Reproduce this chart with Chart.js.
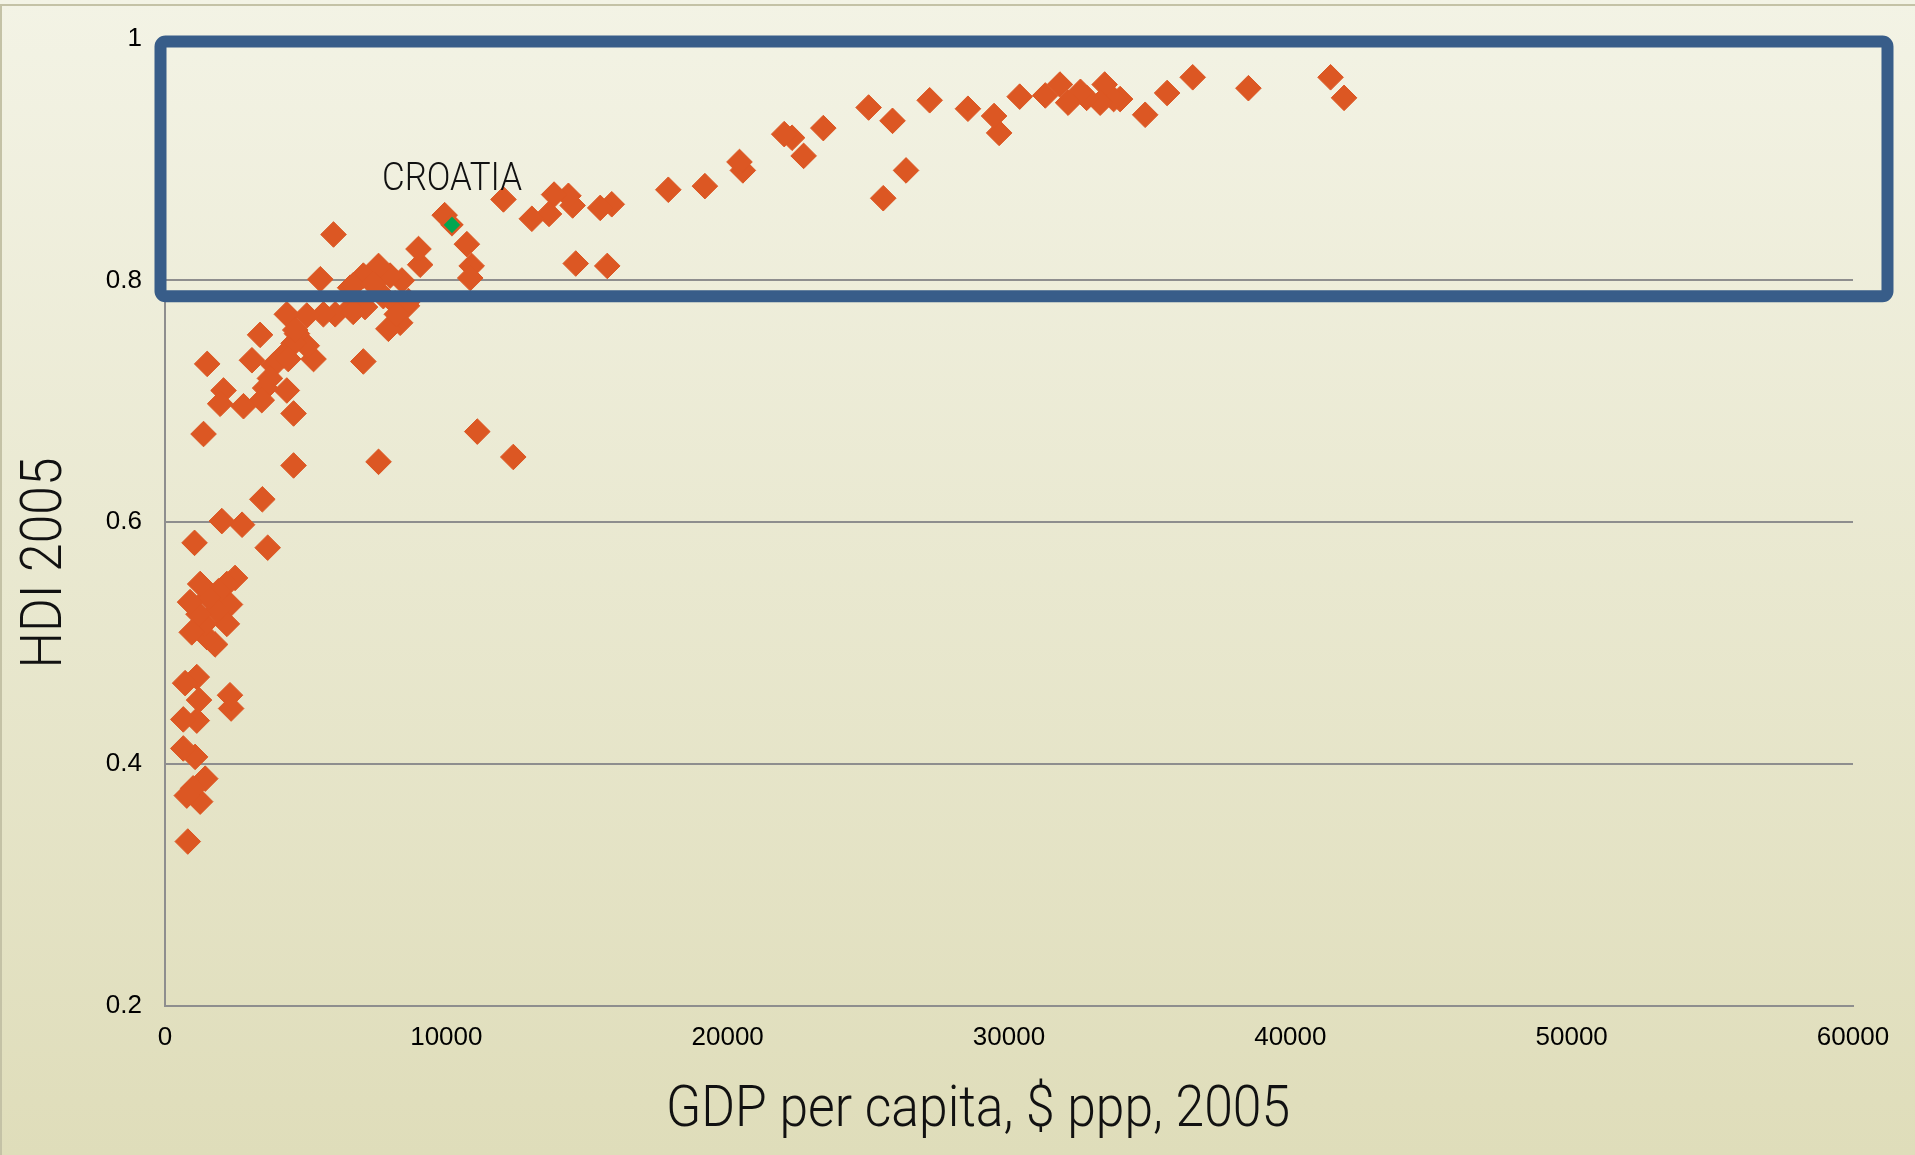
<!DOCTYPE html>
<html>
<head>
<meta charset="utf-8">
<script src="https://cdn.jsdelivr.net/npm/chart.js@4/dist/chart.umd.min.js"></script>
<style>
html,body{margin:0;padding:0;overflow:hidden;background:#efeed9}
#wrap{position:relative;width:1915px;height:1155px}
</style>
</head>
<body>
<div id="wrap"><canvas id="c" width="1915" height="1155"></canvas></div>
<script>
// ---- data ----
const gdp = [41430,41910,38510,36530,35620,34840,33950,33720,33400,33240,32760,32540,32100,31810,31290,30380,
  29650,29470,28540,27180,26340,25860,25530,25010,23400,22700,22290,22010,20540,20420,19190,17890,
  15880,15470,15720,14600,14490,14340,13830,13650,13040,12030,12380,11100,10900,10850,10730,9940,
  9070,9010,8600,8420,8360,8000,7940,7590,7760,7590,7110,7050,7050,6580,6580,6050,5990,5630,5520,
  5280,5040,5040,4690,4570,4570,4570,4330,4330,4210,3860,3730,3650,3560,3460,3440,3380,3090,2790,
  2740,2490,2350,2310,2310,2200,2200,2080,2020,1960,1900,1840,1780,1540,1500,1490,1430,1400,1370,
  1250,1250,1210,1190,1130,1130,1070,1050,1000,950,890,810,775,715,650,650,
  6690,7410,8180,8650,6690,8240,4630,4380];
const hdi = [0.968,0.951,0.959,0.968,0.955,0.937,0.950,0.950,0.962,0.947,0.951,0.956,0.947,0.962,0.953,0.952,
  0.922,0.936,0.942,0.949,0.891,0.932,0.868,0.943,0.926,0.903,0.918,0.921,0.891,0.898,0.878,0.875,
  0.863,0.860,0.812,0.814,0.862,0.870,0.871,0.855,0.851,0.867,0.654,0.675,0.812,0.802,0.830,0.854,
  0.813,0.826,0.779,0.800,0.765,0.804,0.760,0.812,0.787,0.650,0.778,0.804,0.733,0.794,0.777,0.772,0.838,0.772,0.801,
  0.735,0.771,0.746,0.756,0.748,0.690,0.647,0.772,0.709,0.738,0.730,0.719,0.579,0.711,0.619,0.701,0.755,0.734,0.696,
  0.598,0.554,0.446,0.532,0.457,0.549,0.516,0.709,0.601,0.698,0.543,0.527,0.499,0.538,0.731,0.505,0.388,0.516,0.673,
  0.549,0.369,0.453,0.524,0.472,0.436,0.406,0.583,0.380,0.509,0.534,0.336,0.374,0.467,0.437,0.413,
  0.796,0.797,0.781,0.783,0.774,0.772,0.759,0.735];
const croatiaGdp = [10200];
const croatiaHdi = [0.846];
const croatiaLabel = 'CROATIA';
const xTickValues = [0,10000,20000,30000,40000,50000,60000];
const yTickValues = [0.2,0.4,0.6,0.8,1];
const xTitle = 'GDP per capita, $ ppp, 2005';
const yTitle = 'HDI 2005';
// highlight box, in data units
const boxXMin = -160, boxXMax = 61226, boxYMin = 0.787, boxYMax = 0.9975;

const points = gdp.map((v, i) => ({x: v, y: hdi[i]}));
const croatiaPoints = croatiaGdp.map((v, i) => ({x: v, y: croatiaHdi[i]}));

const ORANGE = '#DC5723';
const TXT = "'Roboto', 'Liberation Sans', sans-serif";

function drawScaledText(ctx, text, x, y, size, targetW, rot, align) {
  ctx.save();
  ctx.font = '300 ' + size + 'px ' + TXT;
  const w = ctx.measureText(text).width;
  ctx.translate(x, y);
  if (rot) ctx.rotate(rot);
  ctx.scale(targetW / w, 1);
  ctx.textAlign = align || 'center';
  ctx.textBaseline = 'alphabetic';
  ctx.fillStyle = '#111';
  ctx.fillText(text, 0, 0);
  ctx.restore();
}

const deco = {
  id: 'deco',
  beforeDraw(chart) {
    const {ctx, width, height} = chart;
    ctx.save();
    const g = ctx.createLinearGradient(0, 0, 0, height);
    g.addColorStop(0, '#F3F3E5');
    g.addColorStop(1, '#DFDDBA');
    ctx.fillStyle = g;
    ctx.fillRect(0, 0, width, height);
    ctx.fillStyle = '#C4C2A6';
    ctx.fillRect(0, 4, width, 2);
    ctx.fillRect(0, 4, 2, height);
    ctx.restore();
  },
  afterDatasetsDraw(chart) {
    const {ctx, scales} = chart;
    const x = scales.x, y = scales.y;
    const l = x.getPixelForValue(boxXMin), r = x.getPixelForValue(boxXMax);
    const t = y.getPixelForValue(boxYMax), b = y.getPixelForValue(boxYMin);
    ctx.save();
    ctx.lineWidth = 12;
    ctx.strokeStyle = '#385D89';
    ctx.beginPath();
    ctx.roundRect(l, t, r - l, b - t, 5);
    ctx.stroke();
    ctx.restore();
    const px = x.getPixelForValue(croatiaGdp[0]);
    const py = y.getPixelForValue(croatiaHdi[0]);
    drawScaledText(ctx, croatiaLabel, px, py - 35, 38, 140, 0);
  },
  afterDraw(chart) {
    const {ctx} = chart;
    drawScaledText(ctx, xTitle, 978, 1126, 58, 624, 0);
    drawScaledText(ctx, yTitle, 61, 563, 58, 211, -Math.PI / 2);
  }
};

new Chart(document.getElementById('c'), {
  type: 'scatter',
  data: {
    datasets: [
      {
        label: 'Croatia',
        data: croatiaPoints,
        order: 0,
        pointStyle: 'rectRot',
        pointRadius: 10,
        pointBackgroundColor: '#00A651',
        pointBorderColor: ORANGE,
        pointBorderWidth: 2.5
      },
      {
        label: 'Countries',
        data: points,
        order: 1,
        pointStyle: 'rectRot',
        pointRadius: 12.8,
        pointBackgroundColor: ORANGE,
        pointBorderColor: ORANGE,
        pointBorderWidth: 1
      }
    ]
  },
  options: {
    responsive: false,
    animation: false,
    events: [],
    layout: {padding: {top: 35, right: 62, left: 0, bottom: 0}},
    plugins: {legend: {display: false}, tooltip: {enabled: false}},
    scales: {
      x: {
        type: 'linear',
        min: 0, max: 60000,
        afterBuildTicks: s => { s.ticks = xTickValues.map(v => ({value: v})); },
        afterFit: s => { s.height = 149; },
        grid: {display: false, drawTicks: false},
        border: {display: true, color: '#8E8E8E', width: 2},
        ticks: {
          padding: 16,
          color: '#000',
          font: {family: "'Liberation Sans', Arial, sans-serif", size: 26},
          maxRotation: 0,
          callback: v => String(v)
        }
      },
      y: {
        type: 'linear',
        min: 0.2, max: 1,
        afterBuildTicks: s => { s.ticks = yTickValues.map(v => ({value: v})); },
        afterFit: s => { s.width = 165; },
        grid: {color: '#8E8E8E', lineWidth: 2, drawTicks: false},
        border: {display: true, color: '#8E8E8E', width: 2},
        ticks: {
          padding: 23,
          color: '#000',
          font: {family: "'Liberation Sans', Arial, sans-serif", size: 26},
          callback: v => String(v)
        }
      }
    }
  },
  plugins: [deco]
});
</script>
</body>
</html>
